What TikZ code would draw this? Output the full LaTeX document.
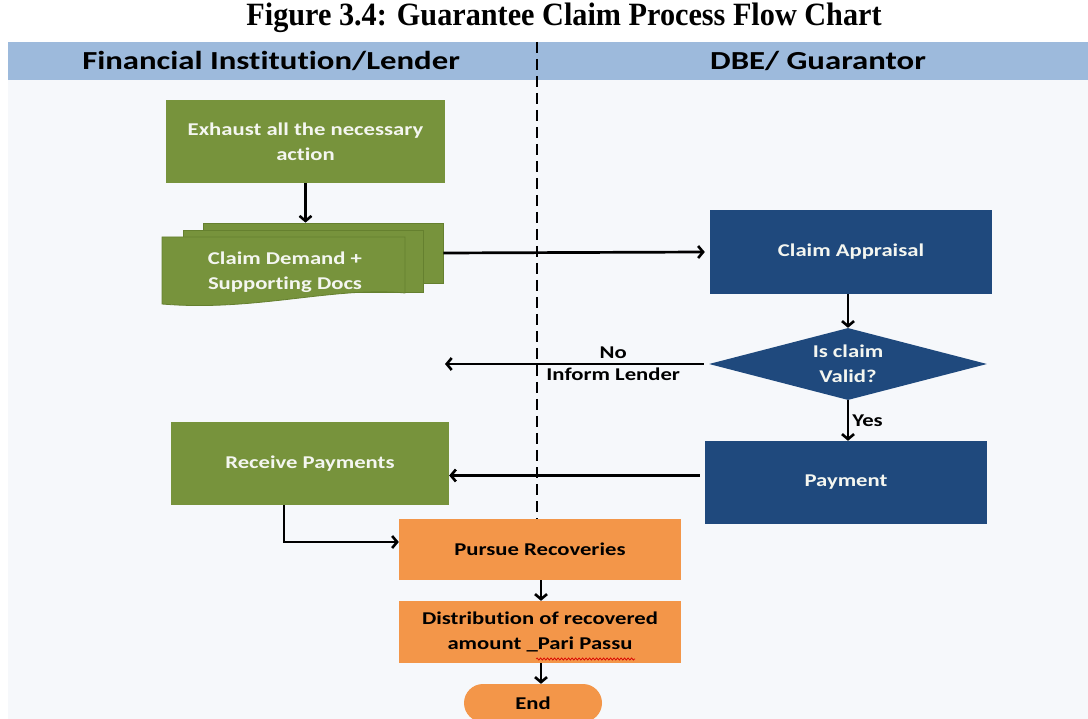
\documentclass[tikz,border=0pt]{standalone}
\usepackage{fontspec}
\setmainfont{Carlito}[FakeStretch=1.26, Ligatures=NoCommon]
\newfontfamily\titlefont{Liberation Serif}[FakeStretch=0.93]
\usetikzlibrary{arrows.meta,shapes.geometric,decorations.pathmorphing}

\definecolor{laneblue}{HTML}{9DBADC}
\definecolor{paper}{HTML}{F6F8FB}
\definecolor{leafgreen}{HTML}{77933C}
\definecolor{leafedge}{HTML}{65802F}
\definecolor{navy}{HTML}{1F497D}
\definecolor{peach}{HTML}{F39649}
\definecolor{boxtext}{HTML}{F4F6F0}

\newcommand\fcboxfont{\bfseries\fontsize{18}{25}\selectfont}
\newcommand\fclanefont{\bfseries\fontsize{26}{30}\selectfont}

\tikzset{
  procbox/.style={rectangle, inner sep=2pt, align=center, font=\fcboxfont},
  greenbox/.style={procbox, fill=leafgreen, text=boxtext},
  bluebox/.style={procbox, fill=navy, text=boxtext},
  orangebox/.style={procbox, fill=peach, text=black},
  flow/.style={line width=2.7pt, -{Straight Barb[length=5pt,width=12pt,line width=2.6pt]}},
  lbl/.style={font=\fcboxfont, text=black, inner sep=1pt},
  lanetitle/.style={font=\fclanefont, text=black},
}

\begin{document}
\begin{tikzpicture}[x=1pt,y=-1pt]
  \useasboundingbox (0,0) rectangle (1088,719);
  \fill[white] (0,0) rectangle (1088,719);

  % title
  \node[font=\titlefont\bfseries\fontsize{32.5}{36}\selectfont] (title) at (564,18)
    {Figure 3.4: Guarantee Claim Process Flow Chart};

  % swim lane header and background
  \fill[paper] (8,80) rectangle (1088,719);
  \fill[laneblue] (8,42) rectangle (1088,80);
  \node[lanetitle] (laneL) at (271,61) {Financial Institution/Lender};
  \node[lanetitle] (laneR) at (818,61) {DBE/ Guarantor};

  % lane divider
  \coordinate (divtop) at (537,42);
  \coordinate (divbot) at (537,519);
  \draw[line width=2.6pt, dash pattern=on 11pt off 6pt] (divtop) -- (divbot);

  % lender side
  \node[greenbox, minimum width=279pt, minimum height=83pt] (exh) at (305.5,141.5)
    {Exhaust all the necessary\\action};

  % stacked documents
  \node[rectangle, fill=leafgreen, draw=leafedge, line width=0.8pt,
        minimum width=240pt, minimum height=60pt, inner sep=0pt] (docback) at (323,253) {};
  \node[rectangle, fill=leafgreen, draw=leafedge, line width=0.8pt,
        minimum width=240pt, minimum height=62pt, inner sep=0pt] (docmid) at (303,261) {};
  \draw[fill=leafgreen, draw=leafedge, line width=0.8pt]
    (162,237) -- (405,237) -- (405,293)
    .. controls (335,286) and (255,312) .. (162,304) -- cycle;
  \node[procbox, text=boxtext] (doc) at (285,272) {Claim Demand +\\Supporting Docs};

  \node[greenbox, minimum width=278pt, minimum height=83pt] (receive) at (310,463.5)
    {Receive Payments};

  % guarantor side
  \node[bluebox, minimum width=282pt, minimum height=84pt] (appraisal) at (851,252)
    {Claim Appraisal};
  \node[diamond, aspect=3.86, fill=navy, text=boxtext, font=\fcboxfont, align=center,
        inner sep=0pt, minimum width=278pt, minimum height=72pt] (valid) at (848,364)
    {Is claim\\Valid?};
  \node[bluebox, minimum width=282pt, minimum height=83pt] (payment) at (846,482.5)
    {Payment};

  % recoveries
  \node[orangebox, minimum width=282pt, minimum height=61pt] (pursue) at (540,549.5)
    {Pursue Recoveries};
  \node[orangebox, minimum width=282pt, minimum height=62pt] (distrib) at (540,632)
    {Distribution of recovered\\amount \_Pari Passu};
  \draw[red!85!black, line width=0.7pt,
        decorate, decoration={snake, amplitude=1.1pt, segment length=3.5pt}]
    (536,659) -- (635,659);
  \node[orangebox, rounded corners=19pt, minimum width=138pt, minimum height=38pt] (finish) at (533,703)
    {End};

  % connectors
  \draw[flow] (exh.south) -- (exh.south |- docback.north);
  \draw[flow] (docback.east) -- ([xshift=-5pt]appraisal.west);
  \draw[flow] (valid.north |- appraisal.south) -- (valid.north);
  \coordinate (noend) at (445,364);
  \draw[flow] ([xshift=-5pt]valid.west) -- (noend)
    node[lbl, pos=0.35, above=3pt] (nolbl) {No}
    node[lbl, pos=0.35, below=2pt] (informlbl) {Inform Lender};
  \draw[flow] (valid.south) -- (valid.south |- payment.north)
    node[lbl, midway, right=2pt] (yeslbl) {Yes};
  \draw[flow] ([xshift=-5pt,yshift=7pt]payment.west) -- ([yshift=7pt]payment.west -| receive.east);
  \draw[flow] ([xshift=-26pt]receive.south) |- ([yshift=7.5pt]pursue.west);
  \draw[flow] ([xshift=1pt]pursue.south) -- ([xshift=1pt]distrib.north);
  \draw[flow] ([xshift=1pt]distrib.south) -- ([xshift=1pt]distrib.south |- finish.north);
\end{tikzpicture}
\end{document}
